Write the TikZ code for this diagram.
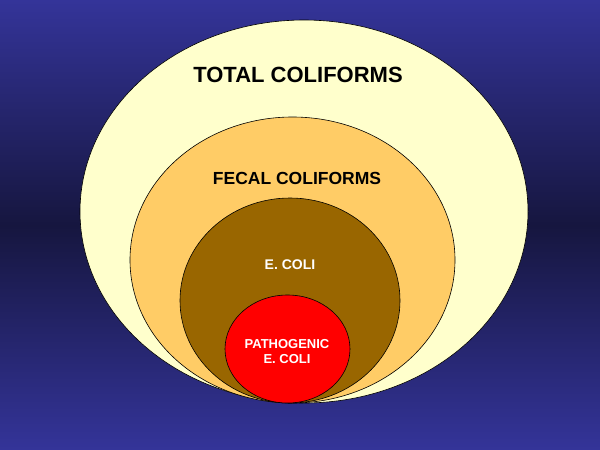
\documentclass[tikz,border=0pt]{standalone}
\usepackage{fontspec}
\setmainfont{Liberation Sans}
\begin{document}
\begin{tikzpicture}[x=1pt,y=-1pt,
  ring/.style={draw=black,line width=0.6pt},
  lbl/.style={font=\bfseries,align=center}]
\definecolor{bgtop}{HTML}{343499}
\definecolor{bgmid}{HTML}{16163F}
\definecolor{outerc}{HTML}{FFFFCC}
\definecolor{fecalc}{HTML}{FFCC66}
\definecolor{ecolic}{HTML}{996600}
\useasboundingbox (0,0) rectangle (600,450);
\shade[top color=bgtop,bottom color=bgmid] (0,0) rectangle (600,225.5);
\shade[top color=bgmid,bottom color=bgtop] (0,225) rectangle (600,450);
\filldraw[ring,fill=outerc] (304,211.5) ellipse [x radius=224,y radius=191.5];
\filldraw[ring,fill=fecalc] (292.5,260) ellipse [x radius=162.5,y radius=143];
\filldraw[ring,fill=ecolic] (290,300.5) ellipse [x radius=110,y radius=102.5];
\filldraw[ring,fill=red] (287.5,349) ellipse [x radius=62.5,y radius=54];
\node[lbl,font=\bfseries\fontsize{22}{26}\selectfont] (total) at (298,75) {TOTAL COLIFORMS};
\node[lbl,font=\bfseries\fontsize{17.5}{21}\selectfont] (fecal) at (297,178) {FECAL COLIFORMS};
\node[lbl,text=white,font=\bfseries\fontsize{14}{16}\selectfont] (ecoli) at (290,265) {E. COLI};
\node[lbl,text=white,font=\bfseries\fontsize{13}{15}\selectfont] (path) at (287,352) {PATHOGENIC\\E. COLI};
\end{tikzpicture}
\end{document}
